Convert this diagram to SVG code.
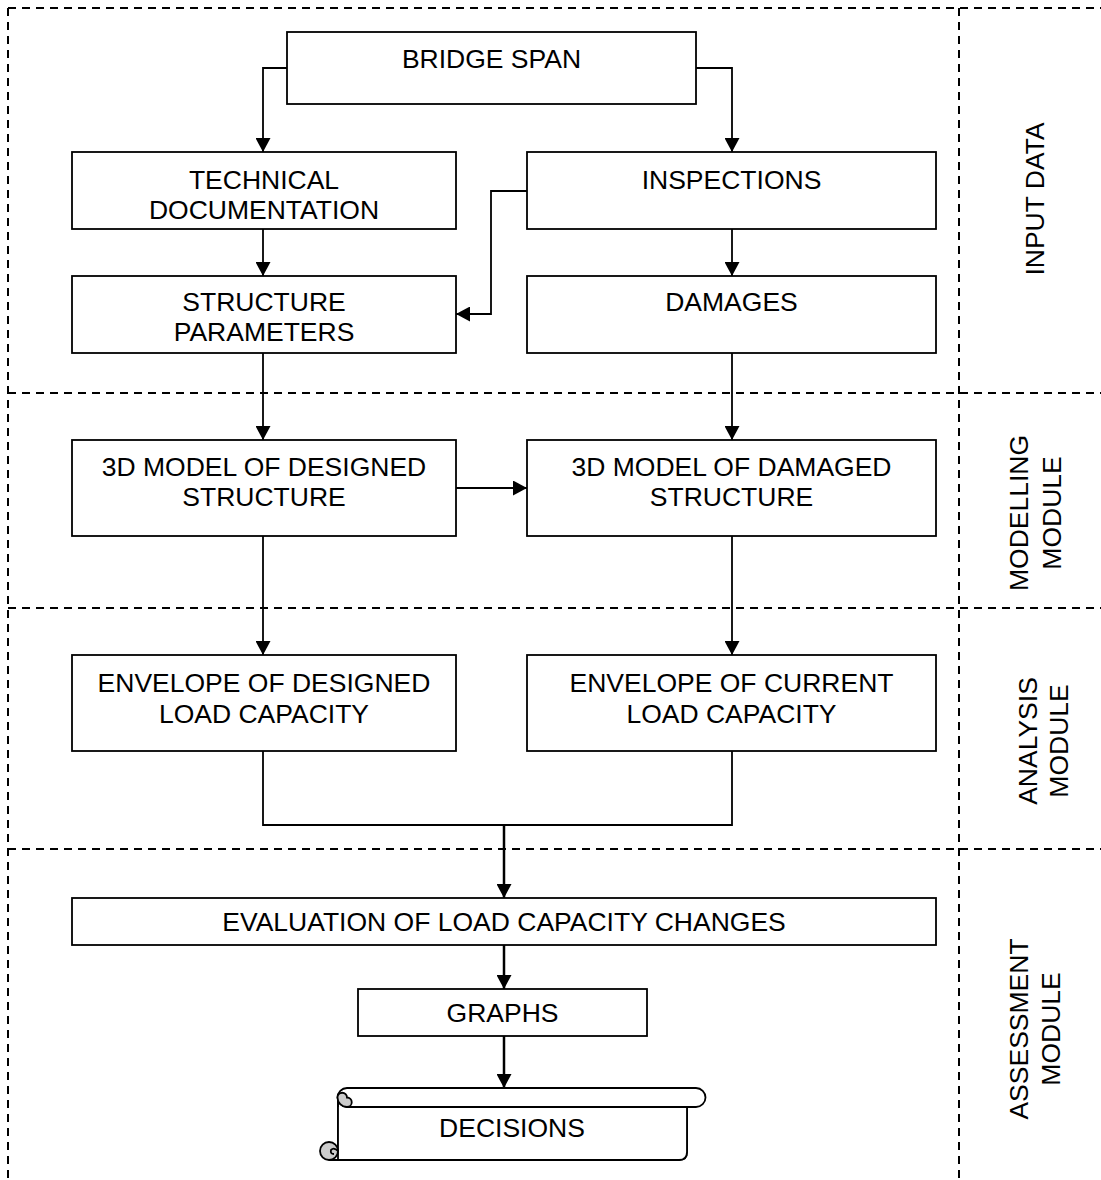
<svg xmlns="http://www.w3.org/2000/svg" width="1101" height="1180" viewBox="0 0 1101 1180">
<defs>
<marker id="ah" viewBox="0 0 14 15" refX="14" refY="7.5" markerWidth="14" markerHeight="15" markerUnits="userSpaceOnUse" orient="auto"><path d="M0 0 L14 7.5 L0 15 Z" fill="#000"/></marker>
<style>
.box{fill:#fff;stroke:#000;stroke-width:1.8}
.t{font-family:"Liberation Sans",Arial,sans-serif;font-size:26.5px;fill:#000;text-anchor:middle}
.c{fill:none;stroke:#000;stroke-width:1.8}
.ct{fill:none;stroke:#000;stroke-width:2.5}
.d{fill:none;stroke:#000;stroke-width:2;stroke-dasharray:8 6}
</style>
</defs>
<rect width="1101" height="1180" fill="#fff"/>
<g id="frame">
<path class="d" d="M8 8 H1101"/>
<path class="d" d="M8 8 V1180"/>
<path class="d" d="M959 8 V1180"/>
<path class="d" d="M8 393 H1101"/>
<path class="d" d="M8 608 H1101"/>
<path class="d" d="M8 849 H1101"/>
</g>
<g id="labels">
<text class="t" transform="translate(1044,199) rotate(-90)">INPUT DATA</text>
<g transform="translate(1028,513) rotate(-90)"><text class="t" x="0" y="0">MODELLING</text><text class="t" x="0" y="33">MODULE</text></g>
<g transform="translate(1037,741) rotate(-90)"><text class="t" x="0" y="0">ANALYSIS</text><text class="t" x="0" y="31">MODULE</text></g>
<g transform="translate(1028,1029) rotate(-90)"><text class="t" x="0" y="0">ASSESSMENT</text><text class="t" x="0" y="32">MODULE</text></g>
</g>
<g id="connectors">
<path class="c" d="M287 68 H263 V152" marker-end="url(#ah)"/>
<path class="c" d="M696 68 H732 V152" marker-end="url(#ah)"/>
<path class="c" d="M263 229 V276" marker-end="url(#ah)"/>
<path class="c" d="M732 229 V276" marker-end="url(#ah)"/>
<path class="c" d="M527 191 H491 V314 H456" marker-end="url(#ah)"/>
<path class="c" d="M263 353 V440" marker-end="url(#ah)"/>
<path class="c" d="M732 353 V440" marker-end="url(#ah)"/>
<path class="c" d="M456 488 H527" marker-end="url(#ah)"/>
<path class="c" d="M263 536 V655" marker-end="url(#ah)"/>
<path class="c" d="M732 536 V655" marker-end="url(#ah)"/>
<path class="c" d="M263 751 V825 H732 V751"/>
<path class="ct" d="M504 825 V898" marker-end="url(#ah)"/>
<path class="ct" d="M504 945 V989" marker-end="url(#ah)"/>
<path class="ct" d="M504 1036 V1088" marker-end="url(#ah)"/>
</g>
<g id="bridge-span"><rect class="box" x="287" y="32" width="409" height="72"/><text class="t" x="491.5" y="68">BRIDGE SPAN</text></g>
<g id="technical-documentation"><rect class="box" x="72" y="152" width="384" height="77"/><text class="t" x="264" y="189">TECHNICAL</text><text class="t" x="264" y="219">DOCUMENTATION</text></g>
<g id="inspections"><rect class="box" x="527" y="152" width="409" height="77"/><text class="t" x="731.5" y="189">INSPECTIONS</text></g>
<g id="structure-parameters"><rect class="box" x="72" y="276" width="384" height="77"/><text class="t" x="264" y="311">STRUCTURE</text><text class="t" x="264" y="341">PARAMETERS</text></g>
<g id="damages"><rect class="box" x="527" y="276" width="409" height="77"/><text class="t" x="731.5" y="311">DAMAGES</text></g>
<g id="model-designed"><rect class="box" x="72" y="440" width="384" height="96"/><text class="t" x="264" y="476">3D MODEL OF DESIGNED</text><text class="t" x="264" y="506">STRUCTURE</text></g>
<g id="model-damaged"><rect class="box" x="527" y="440" width="409" height="96"/><text class="t" x="731.5" y="476">3D MODEL OF DAMAGED</text><text class="t" x="731.5" y="506">STRUCTURE</text></g>
<g id="envelope-designed"><rect class="box" x="72" y="655" width="384" height="96"/><text class="t" x="264" y="692">ENVELOPE OF DESIGNED</text><text class="t" x="264" y="723">LOAD CAPACITY</text></g>
<g id="envelope-current"><rect class="box" x="527" y="655" width="409" height="96"/><text class="t" x="731.5" y="692">ENVELOPE OF CURRENT</text><text class="t" x="731.5" y="723">LOAD CAPACITY</text></g>
<g id="evaluation"><rect class="box" x="72" y="898" width="864" height="47"/><text class="t" x="504" y="931">EVALUATION OF LOAD CAPACITY CHANGES</text></g>
<g id="graphs"><rect class="box" x="358" y="989" width="289" height="47"/><text class="t" x="502.5" y="1022">GRAPHS</text></g>
<g id="decisions">
<path class="box" d="M338 1098 V1152 M687 1107 V1152 Q687 1160 679 1160 H329"/>
<path d="M338 1107 H687 V1152 Q687 1160 679 1160 H338 Z" fill="#fff" stroke="none"/>
<path class="c" d="M338 1098 V1160 M687 1107 V1152 Q687 1160 679 1160 H329"/>
<circle cx="329" cy="1151" r="9" fill="#ccc" stroke="#000" stroke-width="1.8"/>
<path class="c" d="M338 1151 Q334 1147 331 1150 Q330 1154 334 1154"/>
<path class="box" d="M347 1088 H696 A9.5 9.5 0 0 1 696 1107 H347 A9.5 9.5 0 0 1 347 1088 Z"/>
<path d="M347 1107 A9.5 9.5 0 0 1 337.5 1097.5 A4.75 4.75 0 0 1 347 1097.5 A4.75 4.75 0 0 1 347 1107 Z" fill="#ccc" stroke="#000" stroke-width="1.8"/>
<text class="t" x="512" y="1137">DECISIONS</text>
</g>
</svg>
